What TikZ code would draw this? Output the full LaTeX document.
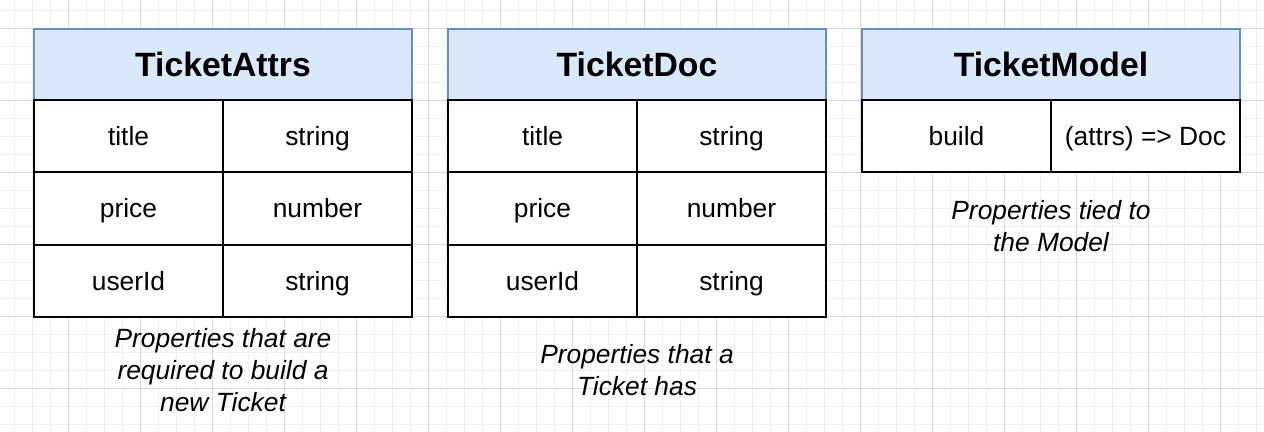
\documentclass[tikz,border=0pt]{standalone}
\usepackage{fontspec}
\setmainfont{Liberation Sans}
\usepackage{tikz}
\usetikzlibrary{positioning}
\definecolor{hdrfill}{HTML}{DAE8FC}
\definecolor{hdrline}{HTML}{6C8EBF}
\definecolor{gridminor}{HTML}{F0F0F0}
\definecolor{gridmajor}{HTML}{D9D9D9}
\tikzstyle{every node}=[font=\fontsize{15}{18.2}\selectfont]
\tikzstyle{hdr}=[draw=hdrline,fill=hdrfill,rectangle,line width=0.85pt,outer sep=0pt,minimum width=7.56cm,minimum height=1.42cm,text height=13.8pt,text depth=0pt,font=\fontsize{19.2}{23}\selectfont\bfseries]
\tikzstyle{cell}=[draw,fill=white,rectangle,line width=1.1pt,outer sep=0pt,minimum width=3.78cm,minimum height=1.446cm,text height=10.8pt,text depth=0pt]
\tikzstyle{note}=[align=center,inner sep=0pt,font=\fontsize{15}{18.2}\selectfont\itshape]

\begin{document}
\begin{tikzpicture}[x=0.02cm,y=-0.02cm]
    \useasboundingbox (0,0) rectangle (1264,432);
    \foreach \gx in {14.7,32.7,...,1264} \draw[gridminor,line width=0.57pt] (\gx,0) -- (\gx,432);
    \foreach \gy in {10.3,28.3,...,432} \draw[gridminor,line width=0.57pt] (0,\gy) -- (1264,\gy);
    \foreach \gx in {68.7,140.7,...,1264} \draw[gridmajor,line width=0.57pt] (\gx,0) -- (\gx,432);
    \foreach \gy in {28.3,100.3,...,432} \draw[gridmajor,line width=0.57pt] (0,\gy) -- (1264,\gy);
    \node[hdr] (ah) at (223,64.5) {TicketAttrs};
    \node[cell,anchor=north east] (a1k) at (ah.south) {title};
    \node[cell,right=0pt of a1k] (a1v) {string};
    \node[cell,below=0pt of a1k] (a2k) {price};
    \node[cell,right=0pt of a2k] (a2v) {number};
    \node[cell,below=0pt of a2k] (a3k) {userId};
    \node[cell,right=0pt of a3k] (a3v) {string};
    \node[note,below=0.22cm of a3k.south east] (an) {Properties that are\\required to build a\\new Ticket};
    \node[hdr] (dh) at (637,64.5) {TicketDoc};
    \node[cell,anchor=north east] (d1k) at (dh.south) {title};
    \node[cell,right=0pt of d1k] (d1v) {string};
    \node[cell,below=0pt of d1k] (d2k) {price};
    \node[cell,right=0pt of d2k] (d2v) {number};
    \node[cell,below=0pt of d2k] (d3k) {userId};
    \node[cell,right=0pt of d3k] (d3v) {string};
    \node[note,below=0.55cm of d3k.south east] (dn) {Properties that a\\Ticket has};
    \node[hdr] (mh) at (1051,64.5) {TicketModel};
    \node[cell,anchor=north east] (m1k) at (mh.south) {build};
    \node[cell,right=0pt of m1k] (m1v) {(attrs) => Doc};
    \node[note,below=0.55cm of m1k.south east] (mn) {Properties tied to\\the Model};
\end{tikzpicture}
\end{document}
